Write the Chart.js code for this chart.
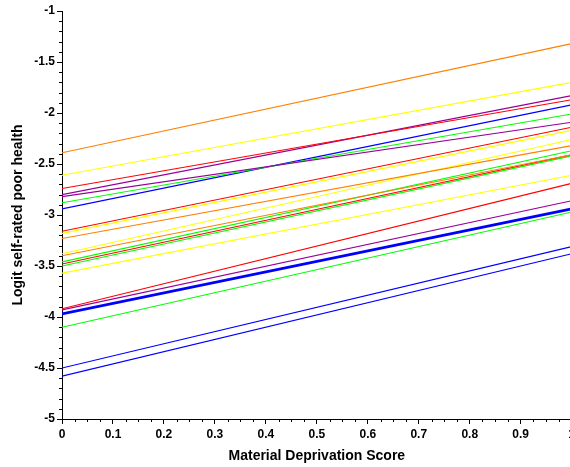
<!DOCTYPE html>
<html>
<head>
<meta charset="utf-8">
<script src="https://cdn.jsdelivr.net/npm/chart.js@4.4.0/dist/chart.umd.min.js"></script>
<style>
  html, body { margin: 0; padding: 0; background: #fff; overflow: hidden; }
  #wrap { width: 578px; height: 467px; }
</style>
</head>
<body>
<div id="wrap"><canvas id="myChart"></canvas></div>
<script>
// x positions of each fitted line (deprivation score range)
const xValues = [0, 1];

// logit value of each line at x = 0 and at x = 1
const startValues = [-2.39, -2.61, -2.74, -2.80, -2.82, -2.88, -2.94, -3.16, -3.18, -3.23, -3.38,
                     -3.40, -3.46, -3.48, -3.50, -3.57, -3.92, -3.93, -3.97, -4.10, -4.50, -4.58];
const endValues   = [-1.32, -1.70, -1.87, -1.83, -2.09, -2.01, -1.92, -2.14, -2.17, -2.32, -2.26,
                     -2.41, -2.37, -2.41, -2.42, -2.61, -2.69, -2.86, -2.94, -2.97, -3.31, -3.38];

const lineColors = ['#ff8000', '#ffff00', '#ff0000', '#990099', '#990099', '#00ff00', '#0000ff',
                    '#ff0000', '#ffff00', '#ff8000', '#ffff00', '#ff8000', '#00ff00', '#ff0000',
                    '#00ff00', '#ffff00', '#ff0000', '#990099', '#0000ff', '#00ff00', '#0000ff', '#0000ff'];
const thickLine = 18; // the overall (mean) line

const yTickMin = -5, yTickMax = -1;

const ctx = document.getElementById('myChart').getContext('2d');

const datasets = startValues.map(function (s, i) {
  return {
    data: [{ x: xValues[0], y: s }, { x: xValues[1], y: endValues[i] }],
    borderColor: lineColors[i],
    borderWidth: i === thickLine ? 2.6 : 1.1,
    pointRadius: 0,
    showLine: true,
    fill: false
  };
});

// small minor tick marks
const minorTicks = {
  id: 'minorTicks',
  afterDraw(chart) {
    const c = chart.ctx;
    const xs = chart.scales.x, ys = chart.scales.y;
    c.save();
    c.strokeStyle = '#000';
    c.lineWidth = 1;
    c.beginPath();
    for (let i = 0; i <= 40; i++) {
      if (i % 5 === 0) continue;
      const py = Math.round(ys.getPixelForValue(yTickMin + i / 10)) + 0.5;
      c.moveTo(xs.left - 3, py);
      c.lineTo(xs.left, py);
    }
    for (let i = 0; i <= 40; i++) {
      if (i % 4 === 0) continue;
      const px = Math.round(xs.getPixelForValue(i / 40)) + 0.5;
      c.moveTo(px, ys.bottom);
      c.lineTo(px, ys.bottom + 3);
    }
    c.stroke();
    c.restore();
  }
};

const tickFont = { family: 'Liberation Sans, Arial, sans-serif', size: 12, weight: 'bold' };
const titleFont = { family: 'Liberation Sans, Arial, sans-serif', size: 14, weight: 'bold' };
const plainLabel = function (v) { return String(Math.round(v * 100) / 100); };

new Chart(ctx, {
  type: 'scatter',
  data: { datasets: datasets },
  options: {
    responsive: true,
    maintainAspectRatio: false,
    animation: false,
    layout: { padding: { top: 11, left: 0, right: 0, bottom: 0 } },
    plugins: { legend: { display: false }, tooltip: { enabled: false } },
    scales: {
      x: {
        type: 'linear',
        min: 0,
        max: 1,
        afterFit: function (scale) { scale.height = 48; },
        ticks: { stepSize: 0.1, color: '#000', font: tickFont, padding: 3, maxRotation: 0, autoSkip: false, callback: plainLabel },
        grid: { display: true, drawOnChartArea: false, drawTicks: true, tickLength: 5, color: '#000' },
        border: { display: true, color: '#000', width: 1 },
        title: { display: true, text: 'Material Deprivation Score', color: '#000', font: titleFont, padding: { top: 0, bottom: 2 } }
      },
      y: {
        type: 'linear',
        min: yTickMin,
        max: yTickMax,
        afterFit: function (scale) { scale.width = 62; },
        ticks: { stepSize: 0.5, color: '#000', font: tickFont, padding: 2, callback: plainLabel },
        grid: { display: true, drawOnChartArea: false, drawTicks: true, tickLength: 5, color: '#000' },
        border: { display: true, color: '#000', width: 1 },
        title: { display: true, text: 'Logit self-rated poor health', color: '#000', font: titleFont, padding: { top: 10, bottom: 0 } }
      }
    }
  },
  plugins: [minorTicks]
});
</script>
</body>
</html>
